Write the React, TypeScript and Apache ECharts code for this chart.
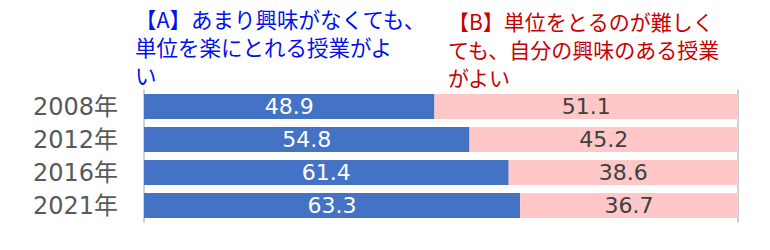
import React, { useEffect, useRef } from "react";
import * as echarts from "echarts";

const categories = ["2008年", "2012年", "2016年", "2021年"];
const seriesA = [48.9, 54.8, 61.4, 63.3];
const seriesB = [51.1, 45.2, 38.6, 36.7];
const titleA = "【A】あまり興味がなくても、\n単位を楽にとれる授業がよ\nい";
const titleB = "【B】単位をとるのが難しく\nても、自分の興味のある授業\nがよい";

export default function App() {
  const ref = useRef<HTMLDivElement>(null);
  useEffect(() => {
    if (!ref.current) return;
    const chart = echarts.init(ref.current, null, { renderer: "svg" });
    const axisLineStyle = { color: "#d0d0d0", width: 2 };
    chart.setOption({
      animation: false,
      grid: { left: 144, right: 32, top: 90, height: 132 },
      xAxis: {
        type: "value",
        min: 0,
        max: 100,
        show: false,
      },
      yAxis: [
        {
          type: "category",
          data: categories,
          inverse: true,
          axisLine: { show: true, lineStyle: axisLineStyle },
          axisTick: { show: false },
          axisLabel: {
            margin: 26,
            color: "#595959",
            fontSize: 24,
            fontFamily: "DejaVu Sans, Noto Sans CJK JP",
          },
        },
        {
          type: "category",
          data: categories,
          inverse: true,
          position: "right",
          axisLine: { show: true, lineStyle: axisLineStyle },
          axisTick: { show: false },
          axisLabel: { show: false },
        },
      ],
      graphic: [
        {
          type: "text",
          left: 135,
          top: 4,
          style: {
            text: titleA,
            fill: "#0010f0",
            fontSize: 21.5,
            lineHeight: 28,
            fontFamily: "Noto Sans CJK JP",
          },
        },
        {
          type: "text",
          left: 448,
          top: 7,
          style: {
            text: titleB,
            fill: "#c80000",
            fontSize: 21,
            lineHeight: 28,
            fontFamily: "Noto Sans CJK JP",
          },
        },
      ],
      series: [
        {
          type: "bar",
          stack: "total",
          data: seriesA,
          barWidth: 25,
          itemStyle: { color: "#4472c4" },
          label: {
            show: true,
            position: "inside",
            color: "#ffffff",
            fontSize: 22,
            fontFamily: "DejaVu Sans",
            formatter: (p: any) => p.value.toFixed(1),
          },
        },
        {
          type: "bar",
          stack: "total",
          data: seriesB,
          barWidth: 25,
          itemStyle: { color: "#ffc7c7" },
          label: {
            show: true,
            position: "inside",
            color: "#404040",
            fontSize: 22,
            fontFamily: "DejaVu Sans",
            formatter: (p: any) => p.value.toFixed(1),
          },
        },
      ],
    });
    return () => chart.dispose();
  }, []);
  return <div ref={ref} style={{ width: 770, height: 250, margin: -8 }} />;
}
